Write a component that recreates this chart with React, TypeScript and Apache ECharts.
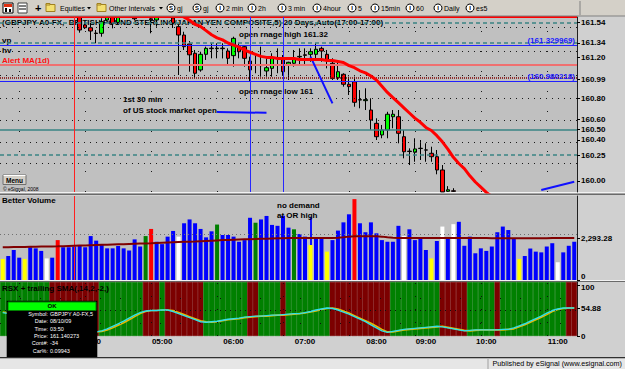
import React, { useEffect, useRef } from 'react';
import * as echarts from 'echarts';

const BAR_COUNT = 105;
const hourTickIndex = [16, 29, 42, 55, 68, 77, 88, 101];
const hourTickLabel = ['04:00', '05:00', '06:00', '07:00', '08:00', '09:00', '10:00', '11:00'];

// [open, close, low, high]
const candles: number[][] = [
  [161.80, 161.78, 161.74, 161.84], [161.78, 161.82, 161.75, 161.86], [161.82, 161.79, 161.76, 161.85],
  [161.79, 161.76, 161.72, 161.81], [161.76, 161.78, 161.73, 161.80], [161.78, 161.74, 161.71, 161.80],
  [161.74, 161.76, 161.70, 161.79], [161.76, 161.72, 161.69, 161.78], [161.72, 161.73, 161.68, 161.75],
  [161.73, 161.69, 161.66, 161.75], [161.69, 161.71, 161.66, 161.74], [161.71, 161.68, 161.64, 161.73],
  [161.68, 161.66, 161.63, 161.70], [161.66, 161.64, 161.61, 161.68], [161.64, 161.466, 161.44, 161.66],
  [161.515, 161.488, 161.476, 161.547], [161.488, 161.456, 161.369, 161.534], [161.436, 161.432, 161.337, 161.466],
  [161.434, 161.547, 161.401, 161.58], [161.563, 161.65, 161.55, 161.68], [161.595, 161.531, 161.482, 161.62],
  [161.54, 161.60, 161.52, 161.63], [161.61, 161.66, 161.60, 161.70], [161.66, 161.63, 161.60, 161.69],
  [161.62, 161.575, 161.56, 161.65], [161.60, 161.64, 161.595, 161.67], [161.64, 161.61, 161.60, 161.66],
  [161.575, 161.565, 161.434, 161.583], [161.563, 161.612, 161.498, 161.63], [161.62, 161.66, 161.60, 161.70],
  [161.66, 161.62, 161.595, 161.68], [161.583, 161.534, 161.485, 161.62], [161.498, 161.417, 161.029, 161.515],
  [161.417, 161.304, 161.272, 161.449], [161.33, 161.225, 161.061, 161.359], [161.24, 161.046, 160.997, 161.272],
  [161.078, 161.23, 161.061, 161.255], [161.23, 161.288, 161.175, 161.304], [161.29, 161.285, 161.191, 161.337],
  [161.285, 161.29, 161.191, 161.337], [161.29, 161.285, 161.19, 161.337], [161.262, 161.191, 161.126, 161.288],
  [161.217, 161.385, 161.11, 161.401], [161.304, 161.255, 161.191, 161.337], [161.304, 161.191, 161.11, 161.32],
  [161.165, 161.078, 160.964, 161.207], [161.13, 161.125, 161.046, 161.223], [161.12, 161.125, 161.013, 161.304],
  [161.068, 161.10, 161.013, 161.207], [161.094, 161.197, 161.013, 161.24], [161.19, 161.195, 161.046, 161.288],
  [161.191, 161.061, 161.029, 161.223], [161.133, 161.152, 160.981, 161.158], [161.143, 161.191, 161.11, 161.272],
  [161.205, 161.21, 161.126, 161.288], [161.225, 161.22, 161.126, 161.288], [161.23, 161.255, 161.158, 161.288],
  [161.23, 161.279, 161.191, 161.337], [161.288, 161.262, 161.158, 161.304], [161.23, 161.175, 161.094, 161.272],
  [161.143, 160.997, 160.981, 161.191], [161.003, 161.061, 160.981, 161.158], [161.036, 160.939, 160.916, 161.046],
  [160.939, 160.916, 160.835, 161.013], [160.964, 160.764, 160.721, 161.013], [160.79, 160.786, 160.706, 160.883],
  [160.78, 160.79, 160.689, 160.90], [160.689, 160.592, 160.495, 160.803], [160.56, 160.43, 160.398, 160.609],
  [160.447, 160.495, 160.415, 160.544], [160.495, 160.648, 160.415, 160.672], [160.624, 160.648, 160.512, 160.689],
  [160.624, 160.463, 160.366, 160.689], [160.43, 160.284, 160.22, 160.495], [160.29, 160.286, 160.155, 160.317],
  [160.279, 160.311, 160.187, 160.415], [160.315, 160.318, 160.204, 160.398], [160.30, 160.302, 160.187, 160.366],
  [160.269, 160.236, 160.187, 160.333], [160.236, 160.107, 160.065, 160.301], [160.107, 159.894, 159.894, 160.155],
  [159.90, 159.915, 159.894, 159.95], [159.905, 159.90, 159.894, 159.93], [159.86, 159.80, 159.76, 159.88],
  [159.80, 159.74, 159.70, 159.84], [159.74, 159.70, 159.66, 159.78], [159.70, 159.62, 159.58, 159.74],
  [159.62, 159.58, 159.52, 159.66], [159.58, 159.52, 159.48, 159.62], [159.52, 159.55, 159.46, 159.58],
  [159.55, 159.50, 159.45, 159.58], [159.50, 159.53, 159.46, 159.56], [159.53, 159.51, 159.47, 159.57],
  [159.51, 159.56, 159.48, 159.60], [159.56, 159.60, 159.52, 159.63], [159.60, 159.58, 159.55, 159.64],
  [159.58, 159.63, 159.55, 159.66], [159.63, 159.68, 159.60, 159.71], [159.68, 159.72, 159.64, 159.75],
  [159.72, 159.70, 159.66, 159.76], [159.70, 159.75, 159.67, 159.78], [159.75, 159.78, 159.72, 159.82],
  [159.78, 159.76, 159.72, 159.81], [159.76, 159.79, 159.73, 159.83], [159.79, 159.80, 159.75, 159.84],
];

const priceMA = [
  161.98, 161.97, 161.96, 161.95, 161.94, 161.93, 161.92, 161.91, 161.90, 161.89,
  161.88, 161.87, 161.86, 161.85, 161.84, 161.83, 161.82, 161.81, 161.80, 161.79,
  161.78, 161.77, 161.76, 161.75, 161.74, 161.73, 161.72, 161.71, 161.70, 161.68,
  161.66, 161.64, 161.62, 161.59, 161.56, 161.52, 161.50, 161.46, 161.42, 161.39,
  161.37, 161.34, 161.32, 161.30, 161.27, 161.25, 161.23, 161.21, 161.20, 161.20,
  161.19, 161.19, 161.19, 161.19, 161.18, 161.18, 161.18, 161.18, 161.18, 161.17,
  161.17, 161.16, 161.15, 161.12, 161.10, 161.07, 161.05, 161.02, 160.98, 160.92,
  160.86, 160.81, 160.76, 160.71, 160.66, 160.61, 160.57, 160.52, 160.49, 160.44,
  160.38, 160.31, 160.23, 160.17, 160.12, 160.05, 159.99, 159.94, 159.89, 159.85,
  159.81, 159.77, 159.74, 159.71, 159.68, 159.66, 159.64, 159.63, 159.62, 159.62,
  159.62, 159.63, 159.64, 159.65, 159.66,
];

const priceTicks = [161.54, 161.34, 161.2, 160.99, 160.8, 160.6, 160.5, 160.4, 160.25, 160.0];
const levelValues = [161.587, 161.54, 161.336, 161.32, 161.13, 160.997, 160.975, 160.5, 160.25];
const levelTexts = ['', '', '', '(161.329969)', '', '', '(160.980218)', '', ''];
const dottedRows = [161.49, 161.26, 161.03, 160.8, 160.59, 160.38, 160.17];
const dottedCols = [3, 15, 27, 39, 51, 63, 75, 87, 99];
const sessionMarks = [13, 45, 51];
const trendLines = [
  [[39, 160.67], [48, 160.662]],
  [[56, 161.207], [60, 160.754]],
  [[98, 159.913], [104, 159.993]],
];

const volume = [
  1150, 1310, 1640, 1220, 1150, 1790, 1730, 1590, 1180, 1220,
  2180, 1790, 1790, 1830, 1910, 1790, 2400, 2150, 1910, 1730,
  1730, 1860, 1730, 1610, 2220, 1830, 2400, 2790, 2090, 1960,
  2370, 2680, 2370, 3100, 3310, 3100, 2790, 2330, 2660, 3030,
  2460, 2460, 2370, 2090, 2180, 3400, 3130, 3310, 3500, 3010,
  2960, 3510, 2860, 2770, 2510, 2370, 1910, 2280, 2280, 1550,
  2180, 2700, 3150, 3590, 4420, 3100, 2610, 3150, 2550, 2180,
  2090, 2090, 2960, 2400, 2770, 2180, 2280, 1640, 1180, 2130,
  2920, 2280, 3050, 3180, 1870, 2370, 1460, 1730, 1590, 1830,
  2610, 2920, 2730, 2240, 1150, 1310, 1720, 1550, 1510, 1830,
  2010, 970, 1510, 1870, 2090,
];
const volumeClass = [
  'y', 'b', 'b', 'b', 'y', 'b', 'b', 'b', 'w', 'b',
  'r', 'b', 'b', 'b', 'b', 'b', 'b', 'b', 'b', 'b',
  'b', 'b', 'b', 'b', 'b', 'b', 'g', 'r', 'b', 'b',
  'b', 'b', 'w', 'b', 'b', 'b', 'b', 'b', 'b', 'g',
  'b', 'b', 'b', 'b', 'b', 'b', 'g', 'b', 'b', 'b',
  'b', 'b', 'b', 'g', 'b', 'b', 'y', 'b', 'b', 'y',
  'b', 'b', 'b', 'b', 'r', 'b', 'b', 'b', 'b', 'b',
  'b', 'b', 'b', 'w', 'b', 'b', 'b', 'b', 'y', 'b',
  'w', 'b', 'w', 'b', 'b', 'b', 'b', 'b', 'b', 'b',
  'b', 'b', 'b', 'b', 'y', 'b', 'b', 'b', 'b', 'b',
  'b', 'w', 'b', 'b', 'b',
];
const volumeMA = [
  1790, 1795, 1800, 1805, 1810, 1815, 1820, 1825, 1830, 1835,
  1840, 1850, 1860, 1870, 1880, 1890, 1900, 1910, 1920, 1930,
  1940, 1950, 1960, 1970, 1980, 1990, 2000, 2010, 2025, 2040,
  2055, 2065, 2075, 2085, 2095, 2105, 2120, 2135, 2150, 2165,
  2180, 2190, 2200, 2210, 2220, 2230, 2240, 2250, 2260, 2270,
  2280, 2285, 2290, 2295, 2300, 2300, 2300, 2300, 2300, 2300,
  2300, 2305, 2330, 2370, 2390, 2395, 2395, 2395, 2385, 2370,
  2330, 2310, 2300, 2300, 2300, 2300, 2300, 2300, 2300, 2300,
  2300, 2300, 2295, 2295, 2290, 2290, 2290, 2290, 2290, 2285,
  2285, 2285, 2285, 2285, 2280, 2280, 2280, 2280, 2280, 2285,
  2290, 2290, 2293, 2293, 2293,
];
const volumeTicks = [0, 2293.28];
const volumeGuide = 2500;
const volumeSpike = [[56, 1910], [56, 3460]];

const rsx = [
  46, 44, 40, 35, 30, 26, 22, 19, 17, 15, 13, 12, 11, 10, 9, 8, 8,
  8, 10, 14, 19, 24, 29, 35, 41, 46, 49, 50, 50, 51, 51,
  48, 44, 40, 36, 32, 28, 27, 28, 29, 31,
  33, 34, 35, 37, 38, 39, 39, 40, 41, 41,
  42, 43, 44, 44, 46, 48, 51, 53, 55, 54,
  51, 47, 43, 38, 33, 28, 22, 16, 10, 7,
  9, 11, 13, 14, 15, 16, 17, 18, 19, 18,
  16, 14, 12, 10, 11, 12, 12, 12, 12, 12,
  13, 13, 16, 20, 24, 29, 34, 39, 45, 50,
  53, 55, 55, 55,
];
const rsxSma = [
  47, 45, 42, 37, 32, 28, 24, 20, 18, 16, 14, 12, 11, 10, 9, 9, 8,
  8, 9, 12, 16, 21, 26, 32, 38, 44, 48, 50, 50, 51, 51,
  50, 46, 42, 38, 34, 30, 28, 27, 28, 30,
  32, 33, 34, 36, 37, 38, 39, 39, 40, 41,
  41, 42, 43, 44, 45, 47, 49, 52, 54, 55,
  53, 49, 45, 40, 35, 30, 25, 19, 13, 8,
  8, 10, 12, 13, 14, 15, 16, 17, 18, 19,
  17, 15, 13, 11, 10, 11, 12, 12, 12, 12,
  12, 13, 14, 18, 22, 27, 32, 37, 42, 48,
  52, 54, 55, 55,
];
const rsxFalling = [[9, 17], [26, 28], [30, 36], [45, 46], [51, 51], [60, 70], [80, 84], [90, 90], [103, 104]];
const rsxTicks = [0, 54.88, 100];
const rsxGuides = [25, 50, 75];

const FONT = "'Liberation Sans', Arial, sans-serif";
const PLOT_BG = '#c0c0c0';
const OUTER_BG = '#d0d0d0';
const PMIN = 159.8932;
const PMAX = 161.5922;
const VMAX = 4590;
const RMAX = 106;
const PLOT_W = 577;

const volColor: Record<string, string> = { b: '#0000ff', y: '#ffff00', w: '#ffffff', r: '#ff0000', g: '#008000' };

function txt(x: number, y: number, text: string, o: any = {}) {
  const align = o.align ?? 'left';
  return {
    type: 'text', x, y, z: o.z ?? 1, silent: true,
    style: {
      text, fill: o.fill ?? '#000', fontSize: o.size ?? 8, fontWeight: o.weight ?? 'bold', fontFamily: FONT,
      align, verticalAlign: 'middle', textAlign: align, textVerticalAlign: 'middle',
    },
  };
}
function rect(x: number, y: number, w: number, h: number, fill: string, z = 0, stroke?: string) {
  return { type: 'rect', z, silent: true, shape: { x, y, width: w, height: h }, style: { fill, stroke: stroke ?? 'none', lineWidth: 1 } };
}
function hline(x1: number, x2: number, y: number, stroke: string, z = 101, w = 1) {
  return { type: 'line', z, silent: true, shape: { x1, y1: y, x2, y2: y }, style: { stroke, lineWidth: w } };
}

function buildGraphics() {
  const g: any[] = [];
  g.push(rect(0, 17, PLOT_W, 175, PLOT_BG, 0));
  g.push(rect(0, 196, PLOT_W, 84, PLOT_BG, 0));
  g.push(rect(0, 192, 625, 1.5, '#f2f2f2', 0));
  g.push(rect(0, 193.5, 625, 1.5, '#6a6a6a', 0));
  g.push(rect(0, 280, 625, 1, '#f2f2f2', 0));
  g.push(rect(0, 281, 625, 1, '#6a6a6a', 0));

  // toolbar
  g.push(rect(0, 0, 625, 16, '#d4d0c8', 100));
  g.push(hline(0, 625, 16, '#808080', 101));
  g.push({ type: 'line', z: 101, silent: true, shape: { x1: 580, y1: 1, x2: 580, y2: 15 }, style: { stroke: '#808080', lineWidth: 1 } });
  g.push(rect(3, 3, 10, 10, '#ffffff', 101, '#000'));
  g.push(rect(4, 4, 8, 3, '#e03010', 102));
  g.push(rect(5, 8, 2, 4, '#000', 102));
  g.push(rect(9, 9, 2, 3, '#000', 102));
  g.push(rect(18, 3, 9, 10, '#ffffff', 101, '#404040'));
  g.push(hline(19, 26, 6, '#000', 102));
  g.push(hline(19, 26, 9, '#000', 102));
  g.push(txt(35, 8, '+', { size: 11, z: 102 }));
  [46, 97].forEach((fx) => {
    g.push(rect(fx, 4.5, 9, 7, '#f4e070', 101, '#a08020'));
    g.push(rect(fx, 3.5, 4, 1.5, '#f4e070', 101, '#a08020'));
  });
  g.push(txt(60, 8, 'Equities', { size: 7, weight: 'normal', z: 102 }));
  g.push({ type: 'polygon', z: 102, silent: true, shape: { points: [[87, 7], [91, 7], [89, 9.5]] }, style: { fill: '#000' } });
  g.push(txt(109, 8, 'Other Intervals', { size: 7, weight: 'normal', z: 102 }));
  g.push({ type: 'polygon', z: 102, silent: true, shape: { points: [[159, 7], [163, 7], [161, 9.5]] }, style: { fill: '#000' } });
  const toolItems: [string, number, string][] = [
    ['S', 171, 'gj'], ['S', 197, 'gj'], ['I', 220, '2 min'], ['I', 252, '2h'], ['I', 282, '3 min'],
    ['I', 317, '4hour'], ['I', 352, '5'], ['I', 375, '15min'], ['I', 410, '60'], ['I', 438, 'Daily'], ['I', 470, 'es5'],
  ];
  toolItems.forEach(([k, cx, label]) => {
    g.push({ type: 'circle', z: 101, silent: true, shape: { cx, cy: 8, r: 4 }, style: { fill: '#ffffff', stroke: '#000', lineWidth: 1 } });
    g.push(txt(cx, 8.3, k, { size: 6, align: 'center', z: 102 }));
    g.push(txt(cx + 6, 8, label, { size: 7, weight: 'normal', z: 102 }));
  });

  g.push(txt(2, 22, '(GBPJPY A0-FX,  BRITISH POUND STERLING/JAPAN YEN COMPOSITE,5) 20 Days,Auto(17:00-17:00)', { z: 1 }));
  g.push(txt(2, 40, 'vp'));
  g.push(txt(2, 50, 'hv'));
  g.push(txt(2, 60, 'Alert MA(1d)', { fill: '#ff1010' }));
  g.push(txt(239, 34, 'open rnage high 161.32'));
  g.push(txt(239, 91, 'open rnage low 161'));
  g.push(txt(123, 99, '1st 30 min'));
  g.push(txt(123, 110, 'of US stock market open'));
  g.push(rect(3, 175, 23, 9.5, '#d4d0c8', 10, '#707070'));
  g.push(hline(3.5, 25.5, 175.5, '#ffffff', 11));
  g.push(txt(14.5, 180, 'Menu', { size: 6.5, align: 'center', z: 12 }));
  g.push(txt(3, 189, '\u00a9 eSignal, 2008', { size: 5, weight: 'normal', z: 12 }));

  g.push(txt(2, 200, 'Better Volume', { z: 10 }));
  g.push(txt(277, 205, 'no demand', { z: 10 }));
  g.push(txt(277, 215, 'at OR high', { z: 10 }));

  g.push(txt(2, 288, 'RSX + trailing SMA(,14,2,-2,)', { z: 10 }));

  g.push(rect(6.7, 300.7, 90.6, 56.3, '#000000', 100));
  g.push(rect(8, 302, 88, 8.5, '#00ff00', 101, '#008000'));
  g.push(txt(52, 306.3, 'OK', { size: 6, align: 'center', z: 102 }));
  const rows: [string, string][] = [
    ['Symbol:', 'GBPJPY A0-FX,5'], ['Date:', '08/10/09'], ['Time:', '03:50'],
    ['Price:', '161.140273'], ['Cont#:', '-34'], ['Car%:', '0.09943'],
  ];
  rows.forEach(([a, b], k) => {
    const y = 314 + k * 7.35;
    g.push(txt(48, y, a, { size: 5.5, weight: 'normal', fill: '#ffffff', align: 'right', z: 102 }));
    g.push(txt(50, y, b, { size: 5.5, weight: 'normal', fill: '#ffffff', z: 102 }));
  });

  g.push(rect(0, 357, 625, 1.5, '#303030', 105));
  g.push(rect(0, 358.5, 625, 10.5, '#e6e6e6', 105));
  g.push({ type: 'line', z: 106, silent: true, shape: { x1: 488, y1: 359, x2: 488, y2: 369 }, style: { stroke: '#a0a0a0', lineWidth: 1 } });
  g.push(txt(622, 363.5, 'Published by eSignal (www.esignal.com)', { size: 7.2, weight: 'normal', align: 'right', z: 106 }));
  return g;
}

function levelStyle(i: number) {
  const teal = '#3a8484';
  const styles = [
    { color: '#ff0000', width: 2, type: 'solid' },
    { color: teal, width: 1.5, type: [4, 3] },
    { color: teal, width: 1.5, type: [4, 3] },
    { color: '#2020ff', width: 1, type: 'solid' },
    { color: '#f07070', width: 2, type: 'solid' },
    { color: '#800000', width: 1.5, type: [1, 1] },
    { color: '#2020ff', width: 1, type: 'solid' },
    { color: teal, width: 1.5, type: 'solid' },
    { color: teal, width: 1.5, type: [4, 3] },
  ];
  return styles[i];
}

function buildOption(): any {
  const categories = Array.from({ length: BAR_COUNT }, (_, i) => `b${i}`);
  const labelAt = new Map<number, string>(hourTickIndex.map((idx, k) => [idx, hourTickLabel[k]]));
  const axisLabelBase = { fontFamily: FONT, fontSize: 8, fontWeight: 'bold', color: '#000' };
  const richBase = { fontFamily: FONT, fontSize: 8, fontWeight: 'bold', color: '#000' };

  const xAxis = [0, 1, 2].map((gi) => ({
    type: 'category', gridIndex: gi, data: categories, boundaryGap: true,
    axisLine: { show: false }, axisTick: { show: false }, splitLine: { show: false },
    axisLabel: gi === 2 ? {
      ...axisLabelBase, margin: 1,
      interval: (i: number) => labelAt.has(i),
      formatter: (_v: string, i: number) => labelAt.get(i) ?? '',
    } : { show: false },
  }));

  const yCommon = {
    position: 'right', splitLine: { show: false },
    axisLine: { show: true, lineStyle: { color: '#202020', width: 1 } },
  };
  const yAxis = [
    {
      ...yCommon, type: 'value', gridIndex: 0, min: PMIN, max: PMAX,
      axisTick: { show: true, length: 3, customValues: priceTicks, lineStyle: { color: '#000' } },
      axisLabel: { ...axisLabelBase, margin: 4, customValues: priceTicks, formatter: (v: number) => v.toFixed(2) },
    },
    {
      ...yCommon, type: 'value', gridIndex: 1, min: 0, max: VMAX,
      axisTick: { show: true, length: 3, customValues: volumeTicks, lineStyle: { color: '#000' } },
      axisLabel: {
        ...axisLabelBase, margin: 4, customValues: volumeTicks,
        formatter: (v: number) => (v === 0 ? '{lo|0}' : v.toLocaleString('en-US', { minimumFractionDigits: 2, maximumFractionDigits: 2 })),
        rich: { lo: { ...richBase, padding: [0, 0, 8, 0] } },
      },
    },
    {
      ...yCommon, type: 'value', gridIndex: 2, min: 0, max: RMAX,
      axisTick: { show: true, length: 3, customValues: rsxTicks, lineStyle: { color: '#000' } },
      axisLabel: {
        ...axisLabelBase, margin: 4, customValues: rsxTicks,
        formatter: (v: number) => (v === 100 ? '{hi|100}' : Number.isInteger(v) ? String(v) : v.toFixed(2)),
        rich: { hi: { ...richBase, padding: [5, 0, 0, 0] } },
      },
    },
  ];

  const priceMarkData: any[] = [
    ...dottedRows.map((v) => ({ yAxis: v, lineStyle: { color: '#1a1a1a', width: 1, type: [1, 5] } })),
    ...dottedCols.map((c) => ({ xAxis: c, lineStyle: { color: '#1a1a1a', width: 1, type: [1, 19] } })),
    ...levelValues.map((v, i) => ({
      yAxis: v,
      lineStyle: levelStyle(i),
      label: levelTexts[i]
        ? { show: true, formatter: levelTexts[i], position: 'insideEndTop', distance: [2, 1], color: '#1818ff', fontFamily: FONT, fontSize: 8, fontWeight: 'bold' }
        : { show: false },
    })),
    ...sessionMarks.map((c, i) => ({ xAxis: c, lineStyle: { color: i === 0 ? '#ff2020' : '#2828ff', width: 1, type: 'solid' } })),
  ];

  const bandData = rsx.map((_, i) => {
    const falling = rsxFalling.some(([a, b]) => i >= a && i <= b);
    const c = falling ? '#7c0000' : '#008000';
    return { value: RMAX, itemStyle: { color: c, borderColor: c, borderWidth: 0.6 } };
  });

  const series: any[] = [
    {
      type: 'line', name: 'levels', xAxisIndex: 0, yAxisIndex: 0, data: [], z: 3, silent: true,
      markLine: { silent: true, symbol: ['none', 'none'], animation: false, label: { show: false }, emphasis: { disabled: true }, data: priceMarkData },
    },
    {
      type: 'candlestick', name: 'GBPJPY', xAxisIndex: 0, yAxisIndex: 0, data: candles, barWidth: 4, z: 4, clip: true,
      itemStyle: { color: '#00ff00', color0: '#ff0000', borderColor: '#000', borderColor0: '#000', borderWidth: 1 },
    },
    {
      type: 'line', name: 'MA', xAxisIndex: 0, yAxisIndex: 0, data: priceMA, showSymbol: false, symbol: 'none', z: 5, clip: true,
      lineStyle: { color: '#ff0000', width: 3 },
    },
    {
      type: 'line', name: 'trend', xAxisIndex: 0, yAxisIndex: 0, data: [], z: 6, silent: true,
      markLine: {
        silent: true, symbol: ['none', 'none'], animation: false, label: { show: false },
        lineStyle: { color: '#1010ff', width: 2, type: 'solid' },
        data: trendLines.map(([a, b]) => [{ coord: a }, { coord: b }]),
      },
    },
    {
      type: 'bar', name: 'Volume', xAxisIndex: 1, yAxisIndex: 1, barWidth: 4, z: 3,
      data: volume.map((v, i) => ({ value: v, itemStyle: { color: volColor[volumeClass[i]] } })),
      markLine: {
        silent: true, symbol: ['none', 'none'], animation: false, label: { show: false },
        data: [
          { yAxis: volumeGuide, lineStyle: { color: '#707070', width: 1, type: [1, 3] } },
          { xAxis: sessionMarks[0], lineStyle: { color: '#ff2020', width: 1, type: 'solid' } },
        ],
      },
    },
    {
      type: 'line', name: 'VolMA', xAxisIndex: 1, yAxisIndex: 1, data: volumeMA, showSymbol: false, symbol: 'none', z: 5,
      lineStyle: { color: '#800000', width: 2 },
      markLine: {
        silent: true, symbol: ['none', 'none'], animation: false, label: { show: false },
        lineStyle: { color: '#1010ff', width: 2, type: 'solid' },
        data: [[{ coord: volumeSpike[0] }, { coord: volumeSpike[1] }]],
      },
    },
    {
      type: 'bar', name: 'RSXband', xAxisIndex: 2, yAxisIndex: 2, data: bandData, barWidth: '100%', barGap: '0%', barCategoryGap: '0%', z: 1, silent: true,
    },
    {
      type: 'line', name: 'RSXsma', xAxisIndex: 2, yAxisIndex: 2, data: rsxSma, showSymbol: false, symbol: 'none', z: 4,
      lineStyle: { color: '#e8b800', width: 1.6 },
      markLine: {
        silent: true, symbol: ['none', 'none'], animation: false, label: { show: false },
        data: [
          ...rsxGuides.map((v) => ({ yAxis: v, lineStyle: { color: '#101010', width: 1, type: v === 50 ? [1, 4] : [1, 19] } })),
          ...dottedCols.map((c) => ({ xAxis: c, lineStyle: { color: '#101010', width: 1, type: [1, 12] } })),
        ],
      },
    },
    {
      type: 'line', name: 'RSX', xAxisIndex: 2, yAxisIndex: 2, data: rsx, showSymbol: false, symbol: 'none', z: 5,
      lineStyle: { color: '#30e0e8', width: 1.4 },
    },
  ];

  return {
    animation: false,
    backgroundColor: OUTER_BG,
    textStyle: { fontFamily: FONT },
    grid: [
      { left: 0, top: 17, width: PLOT_W, height: 175 },
      { left: 0, top: 196, width: PLOT_W, height: 84 },
      { left: 0, top: 282, width: PLOT_W, height: 54 },
    ],
    xAxis, yAxis, series,
    graphic: { elements: buildGraphics() },
  };
}

export default function App() {
  const ref = useRef<HTMLDivElement>(null);
  useEffect(() => {
    if (!ref.current) return;
    const chart = echarts.init(ref.current, null, { renderer: 'svg' });
    chart.setOption(buildOption());
    return () => chart.dispose();
  }, []);
  return <div ref={ref} style={{ position: 'fixed', left: 0, top: 0, width: 625, height: 369 }} />;
}
